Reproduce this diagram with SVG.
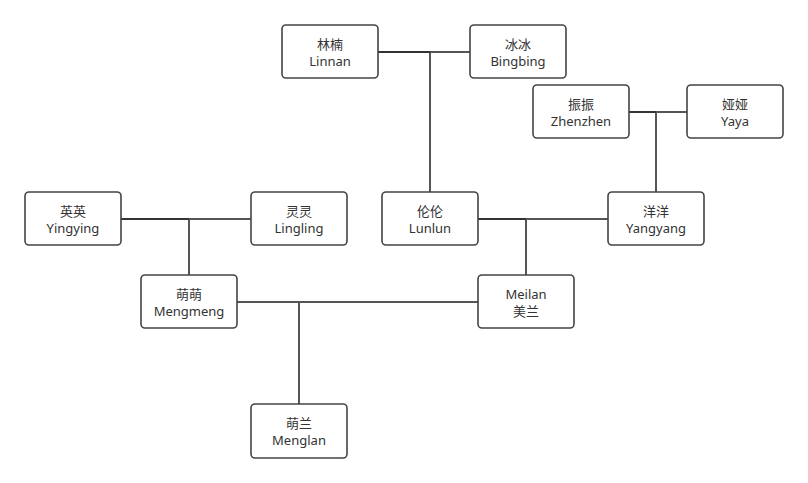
<svg xmlns="http://www.w3.org/2000/svg" width="808" height="483" viewBox="0 0 808 483">
<style>
.box{fill:#fff;stroke:#444;stroke-width:1.6}
.t{font-family:"Noto Sans","Noto Sans CJK SC",sans-serif;font-size:13px;fill:#333;text-anchor:middle}
.c{fill:none;stroke:#555;stroke-width:2}
.cd{fill:none;stroke:#333;stroke-width:2}
</style>
<rect width="808" height="483" fill="#fff"/>
<g id="connectors">
<path class="c" d="M378 52H470M430 52V192"/>
<path class="cd" d="M378 52H430"/>
<path class="c" d="M629 112H687M656 112V192"/>
<path class="cd" d="M629 112H656"/>
<path class="c" d="M121 219H251M189 219V275"/>
<path class="cd" d="M121 219H189"/>
<path class="c" d="M478 219H608M526 219V275"/>
<path class="cd" d="M478 219H526"/>
<path class="c" d="M237 302H478M299 302V404"/>
</g>
<g id="linnan"><rect class="box" x="282" y="25" width="96" height="53" rx="4"/><text class="t" x="330" y="49">林楠</text><text class="t" x="330" y="66">Linnan</text></g>
<g id="bingbing"><rect class="box" x="470" y="25" width="96" height="53" rx="4"/><text class="t" x="518" y="49">冰冰</text><text class="t" x="518" y="66">Bingbing</text></g>
<g id="zhenzhen"><rect class="box" x="533" y="85" width="96" height="53" rx="4"/><text class="t" x="581" y="109">振振</text><text class="t" x="581" y="126">Zhenzhen</text></g>
<g id="yaya"><rect class="box" x="687" y="85" width="96" height="53" rx="4"/><text class="t" x="735" y="109">娅娅</text><text class="t" x="735" y="126">Yaya</text></g>
<g id="yingying"><rect class="box" x="25" y="192" width="96" height="53" rx="4"/><text class="t" x="73" y="216">英英</text><text class="t" x="73" y="233">Yingying</text></g>
<g id="lingling"><rect class="box" x="251" y="192" width="96" height="53" rx="4"/><text class="t" x="299" y="216">灵灵</text><text class="t" x="299" y="233">Lingling</text></g>
<g id="lunlun"><rect class="box" x="382" y="192" width="96" height="53" rx="4"/><text class="t" x="430" y="216">伦伦</text><text class="t" x="430" y="233">Lunlun</text></g>
<g id="yangyang"><rect class="box" x="608" y="192" width="96" height="53" rx="4"/><text class="t" x="656" y="216">洋洋</text><text class="t" x="656" y="233">Yangyang</text></g>
<g id="mengmeng"><rect class="box" x="141" y="275" width="96" height="53" rx="4"/><text class="t" x="189" y="299">萌萌</text><text class="t" x="189" y="316">Mengmeng</text></g>
<g id="meilan"><rect class="box" x="478" y="275" width="96" height="53" rx="4"/><text class="t" x="526" y="299">Meilan</text><text class="t" x="526" y="316">美兰</text></g>
<g id="menglan"><rect class="box" x="251" y="404" width="96" height="54" rx="4"/><text class="t" x="299" y="428">萌兰</text><text class="t" x="299" y="445">Menglan</text></g>
</svg>
